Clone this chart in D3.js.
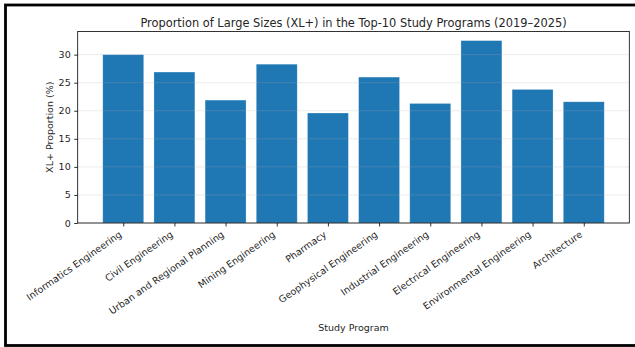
<!DOCTYPE html>
<html>
<head>
<meta charset="utf-8">
<script src="https://cdn.jsdelivr.net/npm/d3@7"></script>
<style>
  html, body { margin: 0; padding: 0; background: #fff; }
  svg { display: block; }
  text { font-family: "DejaVu Sans", sans-serif; }
</style>
</head>
<body>
<svg id="chart" width="635" height="347"></svg>
<script>
// Study programs and their share of XL+ sizes (%)
const categories = [
  "Informatics Engineering",
  "Civil Engineering",
  "Urban and Regional Planning",
  "Mining Engineering",
  "Pharmacy",
  "Geophysical Engineering",
  "Industrial Engineering",
  "Electrical Engineering",
  "Environmental Engineering",
  "Architecture"
];
const values = [30.0, 26.9, 21.9, 28.3, 19.6, 26.0, 21.3, 32.5, 23.8, 21.6];
const yTicks = [0, 5, 10, 15, 20, 25, 30];

const titleText = "Proportion of Large Sizes (XL+) in the Top-10 Study Programs (2019\u20132025)";
const xLabel = "Study Program";
const yLabel = "XL+ Proportion (%)";

const svg = d3.select("#chart");
const W = 635, H = 347;
const plot = { left: 77.7, right: 629.3, top: 31.5, bottom: 223 };
const fontSize = 9.5;
const textColor = "#262626";

// outer frame around the figure
svg.append("rect")
  .attr("x", 5.5).attr("y", 5)
  .attr("width", 650).attr("height", 340.5)
  .attr("fill", "none").attr("stroke", "#000").attr("stroke-width", 2.8);

// bars sit at integer positions with 0.8 width and 5% side margins
const n = categories.length;
const span = (n - 1) + 0.8;
const pad = span * 0.05;
const x = d3.scaleLinear()
  .domain([-0.4 - pad, n - 1 + 0.4 + pad])
  .range([plot.left, plot.right]);

const y = d3.scaleLinear()
  .domain([0, d3.max(values) * 1.05])
  .range([plot.bottom, plot.top]);

// bars
svg.append("g")
  .selectAll("rect")
  .data(values)
  .join("rect")
  .attr("x", (d, i) => x(i - 0.4))
  .attr("width", x(0.8) - x(0))
  .attr("y", d => y(d))
  .attr("height", d => y(0) - y(d))
  .attr("fill", "#1f77b4")
  .attr("stroke", "rgba(255,255,255,0.35)")
  .attr("stroke-width", 0.7);

// horizontal grid lines drawn over the bars
svg.append("g")
  .selectAll("line")
  .data(yTicks)
  .join("line")
  .attr("x1", plot.left).attr("x2", plot.right)
  .attr("y1", d => y(d)).attr("y2", d => y(d))
  .attr("stroke", "#b0b0b0")
  .attr("stroke-opacity", 0.3)
  .attr("stroke-width", 0.8);

// axes
const yAxis = svg.append("g")
  .attr("transform", `translate(${plot.left},0)`)
  .call(d3.axisLeft(y).tickValues(yTicks).tickFormat(d3.format("d")).tickSize(3.5).tickPadding(3.5));

const xAxis = svg.append("g")
  .attr("transform", `translate(0,${plot.bottom})`)
  .call(d3.axisBottom(x).tickValues(d3.range(n)).tickFormat(i => categories[i]).tickSize(3.5).tickPadding(3.5));

[yAxis, xAxis].forEach(g => {
  g.select(".domain").remove();
  g.selectAll(".tick line").attr("stroke", "#000").attr("stroke-width", 0.8);
  g.selectAll(".tick text")
    .attr("fill", textColor)
    .style("font-family", "'DejaVu Sans', sans-serif")
    .style("font-size", fontSize + "px");
});

// rotated category labels, right-aligned to their tick
const theta = 35;
const rad = theta * Math.PI / 180;
const asc = fontSize * 0.76, desc = fontSize * 0.24;
xAxis.selectAll(".tick text")
  .attr("text-anchor", "end")
  .attr("dy", null)
  .attr("y", null)
  .attr("transform", function () {
    const tx = -desc * Math.sin(rad);
    const ty = 3.5 + 3.5 + asc * Math.cos(rad);
    return `translate(${tx},${ty}) rotate(${-theta})`;
  });

// axes frame
svg.append("rect")
  .attr("x", plot.left).attr("y", plot.top)
  .attr("width", plot.right - plot.left)
  .attr("height", plot.bottom - plot.top)
  .attr("fill", "none").attr("stroke", "#000").attr("stroke-width", 0.8);

// title and axis labels
svg.append("text")
  .attr("x", (plot.left + plot.right) / 2)
  .attr("y", 27)
  .attr("text-anchor", "middle")
  .attr("fill", textColor)
  .style("font-size", "11.4px")
  .text(titleText);

svg.append("text")
  .attr("x", (plot.left + plot.right) / 2)
  .attr("y", 330.5)
  .attr("text-anchor", "middle")
  .attr("fill", textColor)
  .style("font-size", fontSize + "px")
  .text(xLabel);

svg.append("text")
  .attr("transform", `translate(52.5,${(plot.top + plot.bottom) / 2}) rotate(-90)`)
  .attr("text-anchor", "middle")
  .attr("fill", textColor)
  .style("font-size", fontSize + "px")
  .text(yLabel);
</script>
</body>
</html>
